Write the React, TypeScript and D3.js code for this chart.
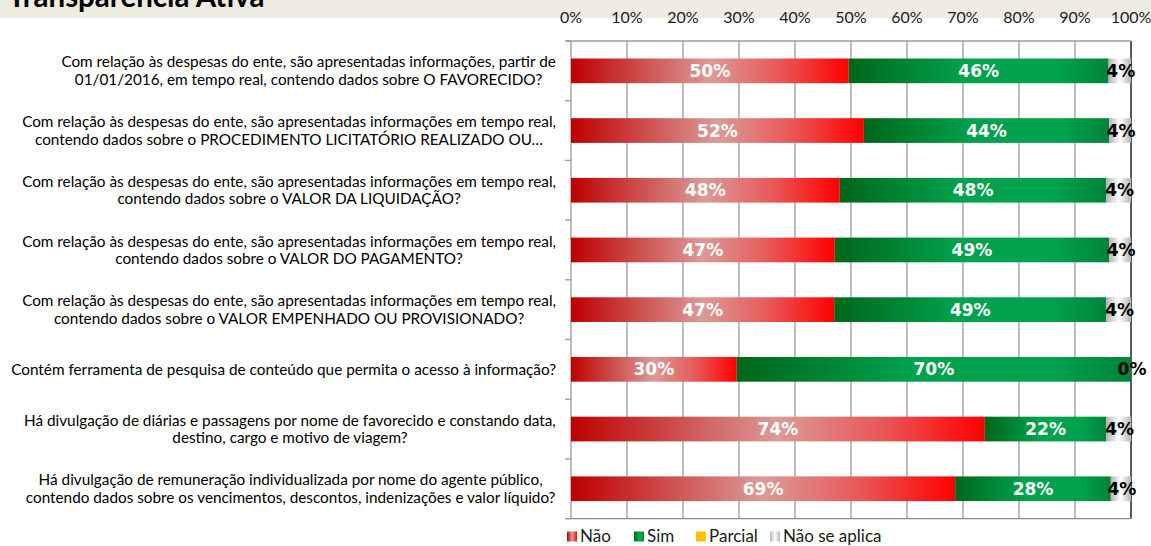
import * as d3 from "d3";

const categories = [
  ["Com relação às despesas do ente, são apresentadas informações, partir de", "01/01/2016, em tempo real, contendo dados sobre O FAVORECIDO?"],
  ["Com relação às despesas do ente, são apresentadas informações em tempo real,", "contendo dados sobre o PROCEDIMENTO LICITATÓRIO REALIZADO OU…"],
  ["Com relação às despesas do ente, são apresentadas informações em tempo real,", "contendo dados sobre o VALOR DA LIQUIDAÇÃO?"],
  ["Com relação às despesas do ente, são apresentadas informações em tempo real,", "contendo dados sobre o VALOR DO PAGAMENTO?"],
  ["Com relação às despesas do ente, são apresentadas informações em tempo real,", "contendo dados sobre o VALOR EMPENHADO OU PROVISIONADO?"],
  ["Contém ferramenta de pesquisa de conteúdo que permita o acesso à informação?"],
  ["Há divulgação de diárias e passagens por nome de favorecido e constando data,", "destino, cargo e motivo de viagem?"],
  ["Há divulgação de remuneração individualizada por nome do agente público,", "contendo dados sobre os vencimentos, descontos, indenizações e valor líquido?"],
];

const naoValues = [49.6, 52.3, 48.0, 47.1, 47.0, 29.6, 73.9, 68.6];
const simValues = [46.4, 43.8, 47.6, 49.0, 48.6, 70.4, 21.7, 27.8];
const parcialValues = [0, 0, 0, 0, 0, 0, 0, 0];
const naValues = [4.0, 3.9, 4.4, 3.9, 4.4, 0, 4.4, 3.6];

const seriesNames = ["Não", "Sim", "Parcial", "Não se aplica"];
const tickValues = [0, 10, 20, 30, 40, 50, 60, 70, 80, 90, 100];

const W = 1151;
const H = 546;
const margin = { top: 41, right: 20, bottom: 27.4, left: 571 };
const FONT = "Lato, 'Open Sans', sans-serif";
const LABEL_SIZE = 15.3;

let ctx: CanvasRenderingContext2D | null = null;
function measure(text: string, font: string) {
  if (!ctx) ctx = document.createElement("canvas").getContext("2d");
  if (!ctx) return text.length * 7;
  ctx.font = font;
  return ctx.measureText(text).width;
}

export default function App() {
  const keys = ["nao", "sim", "parcial", "na"];
  const table = categories.map((c, i) => ({
    idx: String(i),
    nao: naoValues[i],
    sim: simValues[i],
    parcial: parcialValues[i],
    na: naValues[i],
  }));
  const stacked = d3.stack<any>().keys(keys)(table);

  const x = d3.scaleLinear().domain([0, 100]).range([margin.left, W - margin.right]);
  const y = d3
    .scaleBand()
    .domain(table.map((d) => d.idx))
    .range([margin.top, H - margin.bottom])
    .paddingInner(0.586)
    .paddingOuter(0.293);
  const step = y.step();
  const y0 = margin.top;
  const y1 = H - margin.bottom;

  const fills = ["url(#gNao)", "url(#gSim)", "#FFC000", "url(#gNa)"];
  const labelFont = `${LABEL_SIZE}px Lato`;
  // posição das caixas da legenda
  const legendX = [567, 634, 696, 770];

  return (
    <div>
      <style>{`body{margin:0}`}</style>
      <svg width={W} height={H} style={{ display: "block", background: "#fff" }}>
        <defs>
          <linearGradient id="gNao" x1="0" x2="1" y1="0" y2="0">
            <stop offset="0" stopColor="#BE0000" />
            <stop offset="0.5" stopColor="#DB9A98" />
            <stop offset="0.75" stopColor="#E85858" />
            <stop offset="1" stopColor="#FF0000" />
          </linearGradient>
          <linearGradient id="gSim" x1="0" x2="1" y1="0" y2="0">
            <stop offset="0" stopColor="#00661A" />
            <stop offset="0.45" stopColor="#00A24D" />
            <stop offset="0.8" stopColor="#00A24D" />
            <stop offset="1" stopColor="#00843A" />
          </linearGradient>
          <linearGradient id="gNa" x1="0" x2="1" y1="0" y2="0">
            <stop offset="0" stopColor="#B4B4B4" />
            <stop offset="0.5" stopColor="#FFFFFF" />
            <stop offset="1" stopColor="#B4B4B4" />
          </linearGradient>
        </defs>

        {/* faixa do título */}
        <rect x={0} y={0} width={W} height={18} fill="#EEEBE1" />
        <text x={8} y={7} fontFamily={FONT} fontWeight="bold" fontSize={29.5} fill="#000">
          Transparência Ativa
        </text>

        {/* eixo superior */}
        {tickValues.map((t) => (
          <text key={t} x={x(t)} y={23} textAnchor="middle" fontFamily={FONT} fontSize={16} fill="#1a1a1a">
            {t}%
          </text>
        ))}

        {/* grade */}
        {tickValues.map((t) => (
          <line
            key={t}
            x1={x(t)}
            x2={x(t)}
            y1={y0}
            y2={y1}
            stroke={t === 100 ? "#000" : "#9A9A9A"}
            strokeWidth={1.3}
          />
        ))}
        <line x1={566} x2={x(100)} y1={y0} y2={y0} stroke="#9A9A9A" strokeWidth={1.3} />
        <line x1={566} x2={x(100)} y1={y1} y2={y1} stroke="#8A8A8A" strokeWidth={1.3} />
        {d3.range(categories.length + 1).map((i) => (
          <line key={i} x1={565} x2={x(0)} y1={y0 + i * step} y2={y0 + i * step} stroke="#9A9A9A" strokeWidth={1.3} />
        ))}

        {/* barras */}
        {stacked.map((s, si) =>
          s.map((d, i) => (
            <rect
              key={si + "-" + i}
              x={x(d[0])}
              y={y(String(i))}
              width={Math.max(0, x(d[1]) - x(d[0]))}
              height={y.bandwidth()}
              fill={fills[si]}
            />
          ))
        )}

        {/* rótulos */}
        {stacked.map((s, si) =>
          si === 2
            ? null
            : s.map((d, i) => (
                <text
                  key={"l" + si + "-" + i}
                  x={(x(d[0]) + x(d[1])) / 2 + (si === 3 ? 1 : 0)}
                  y={(y(String(i)) || 0) + y.bandwidth() / 2}
                  dy="0.36em"
                  textAnchor="middle"
                  fontFamily="'DejaVu Sans', sans-serif"
                  fontWeight="bold"
                  fontSize={17}
                  fill={si === 3 ? "#000" : "#fff"}
                >
                  {Math.round(d[1] - d[0])}%
                </text>
              ))
        )}

        {/* categorias */}
        {categories.map((lines, i) => {
          const maxW = d3.max(lines, (l) => measure(l, labelFont)) || 0;
          const cx = 556 - maxW / 2;
          const cy = (y(String(i)) || 0) + y.bandwidth() / 2;
          const lh = 17.5;
          return (
            <text key={i} fontFamily={FONT} fontSize={LABEL_SIZE} fill="#000" textAnchor="middle">
              {lines.map((l, j) => (
                <tspan key={j} x={cx} y={cy + (j - (lines.length - 1) / 2) * lh} dy="0.35em">
                  {l}
                </tspan>
              ))}
            </text>
          );
        })}

        {/* legenda */}
        {seriesNames.map((name, i) => (
          <g key={name}>
            <rect x={legendX[i]} y={531.5} width={10} height={10} fill={fills[i]} />
            <text x={legendX[i] + 13} y={541.5} fontFamily={FONT} fontSize={17} fill="#1a1a1a">
              {name}
            </text>
          </g>
        ))}
      </svg>
    </div>
  );
}
